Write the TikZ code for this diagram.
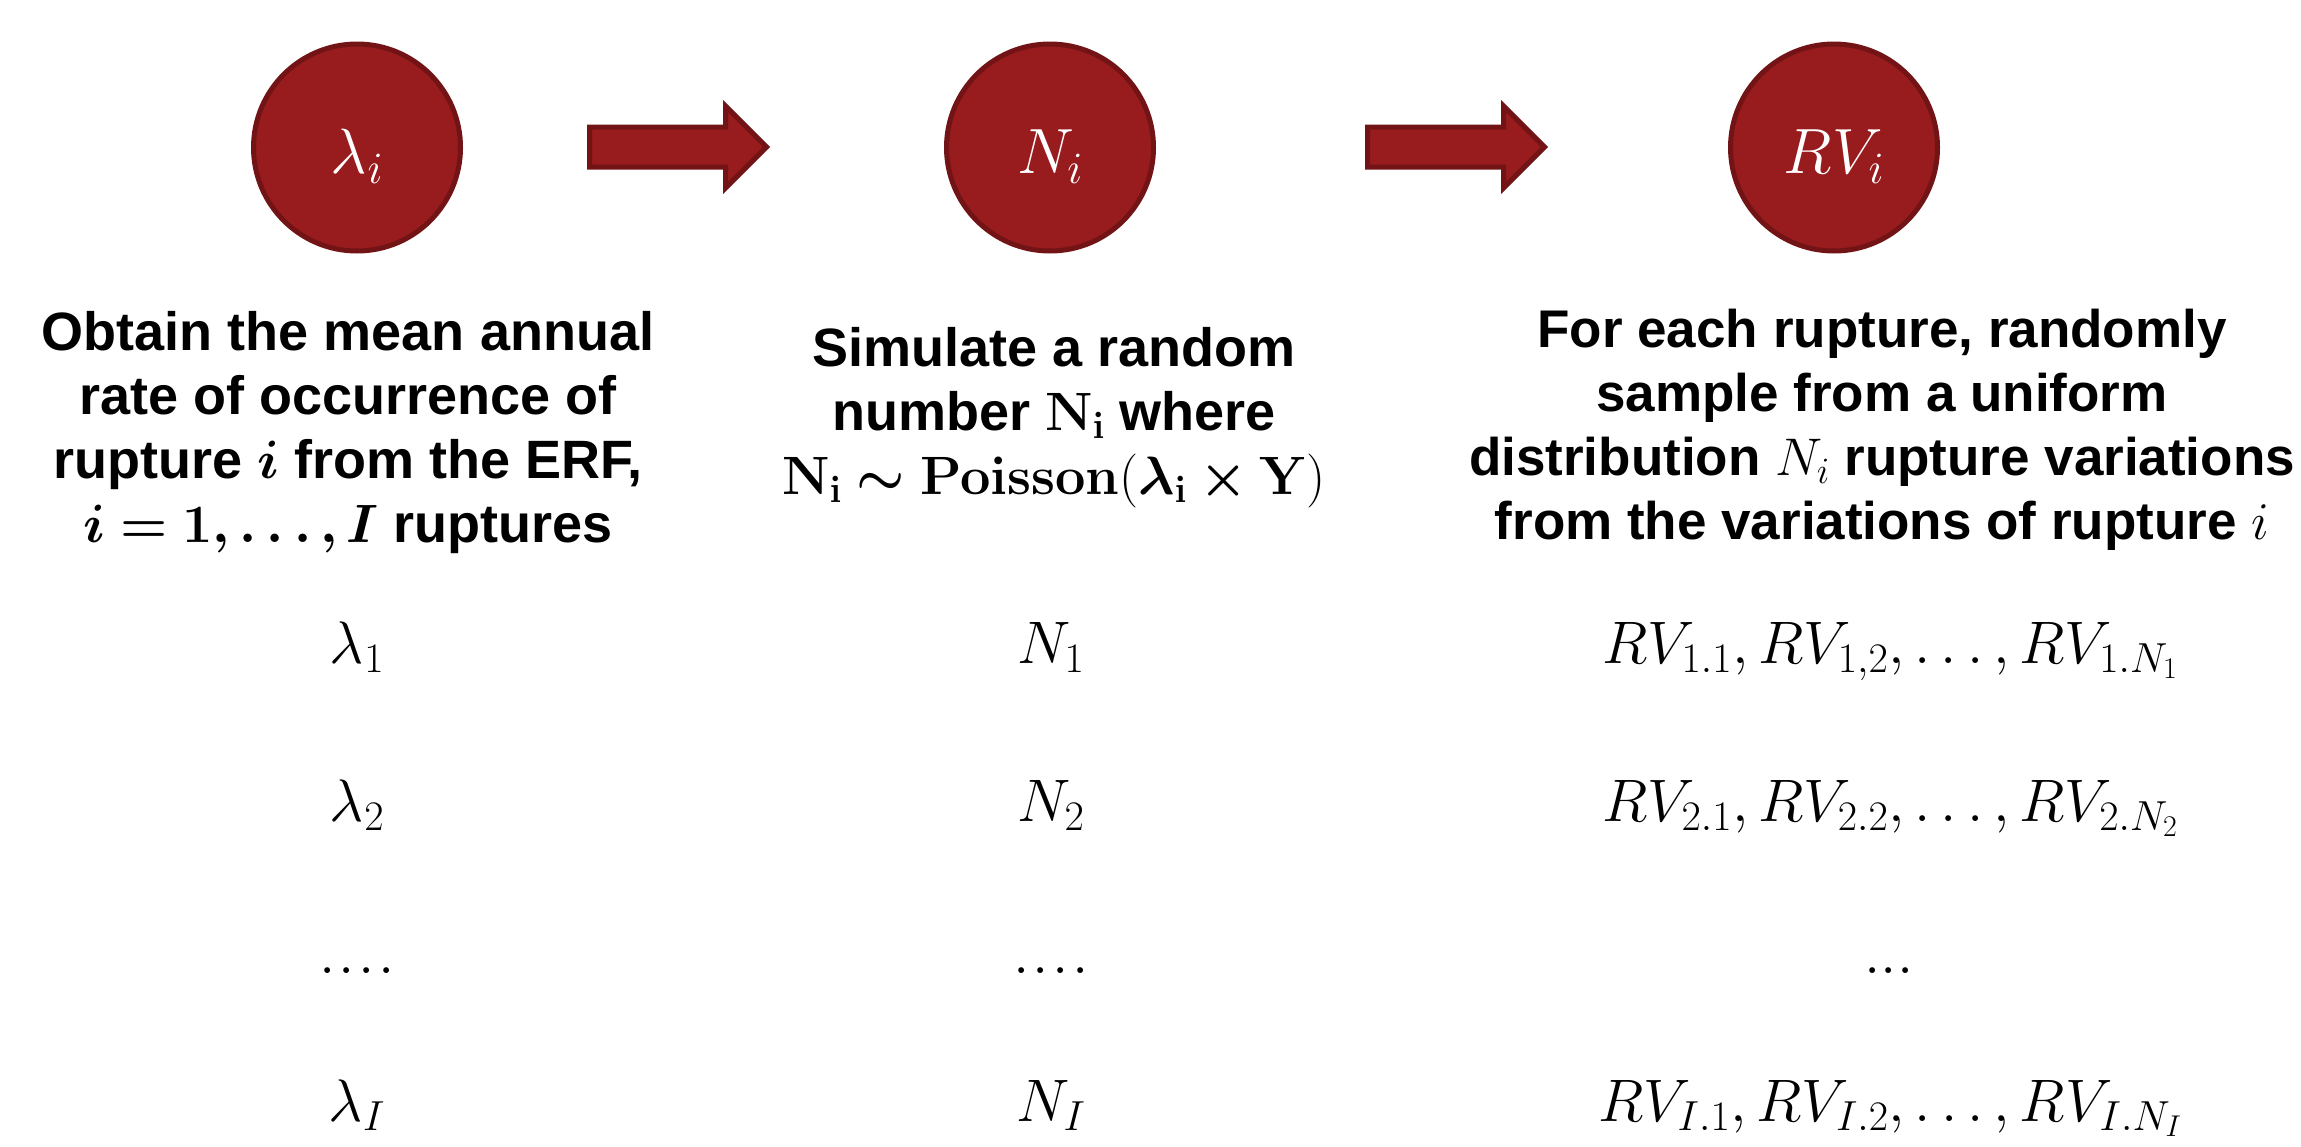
\RequirePackage{fix-cm}
\documentclass[tikz,border=0pt]{standalone}
\usepackage{amsmath}
\usepackage{bm}
\usepackage[no-math]{fontspec}
\setmainfont{Liberation Sans}
\definecolor{cfill}{RGB}{152,27,30}
\definecolor{cline}{RGB}{114,20,22}
\newcommand{\lowered}[1]{\raisebox{-9pt}[\height][\depth]{#1}}
\newcommand{\fourdots}{.\mkern1mu.\mkern1mu.\mkern1mu.}
\begin{document}
\begin{tikzpicture}[x=1pt,y=-1pt,
  disc/.style={circle, fill=cfill, draw=cline, line width=5pt, minimum size=207pt, inner sep=0pt, text=white, font=\fontsize{64}{68}\selectfont},
  blockarrow/.style={fill=cfill, draw=cline, line width=5pt, line join=miter},
  desc/.style={align=center, inner sep=0pt, anchor=north, font=\fontsize{54}{64}\selectfont\bfseries},
  val/.style={inner sep=0pt, anchor=base, font=\fontsize{60}{64}\selectfont}]
\useasboundingbox (0,0) rectangle (2301,1146);
\fill[white] (0,0) rectangle (2301,1146);
% step circles
\node[disc] (lam) at (357,147.5) {\lowered{$\lambda_i$}};
\node[disc] (N) at (1050,147.5) {\lowered{$N_i$}};
\node[disc] (RV) at (1834,147.5) {\lowered{$RV_i$}};
% block arrows
\coordinate (a1) at (589.5,147);
\coordinate (a2) at (1367.5,147);
\draw[blockarrow] (a1) ++(0,-20) -- ++(136,0) -- ++(0,-21) -- ++(41,41) -- ++(-41,41) -- ++(0,-21) -- ++(-136,0) -- cycle;
\draw[blockarrow] (a2) ++(0,-20) -- ++(136,0) -- ++(0,-21) -- ++(41,41) -- ++(-41,41) -- ++(0,-21) -- ++(-136,0) -- cycle;
% descriptions
\node[desc] (t1) at (348,311) {Obtain the mean annual\\rate of occurrence of\\rupture $\bm{i}$ from the ERF,\\$\bm{i=1,\ldots,I}$ ruptures};
\node[desc] (t2) at (1054,327) {Simulate a random\\number $\mathbf{N_i}$ where\\$\mathbf{N_i}\bm{\sim}\mathbf{Poisson(}\bm{\lambda}_{\mathbf{i}}\bm{\times}\mathbf{Y)}$};
\node[desc, font=\fontsize{53}{64}\selectfont\bfseries] (t3) at (1882,309) {For each rupture, randomly\\sample from a uniform\\distribution $N_i$ rupture variations\\from the variations of rupture $i$};
% values
\node[val] (l1) at (357,663) {$\lambda_1$};
\node[val] (n1) at (1051,663) {$N_1$};
\node[val] (r1) at (1890,663) {$RV_{1.1}, RV_{1,2}, \ldots, RV_{1.N_1}$};
\node[val] (l2) at (357,821) {$\lambda_2$};
\node[val] (n2) at (1051,821) {$N_2$};
\node[val] (r2) at (1890,821) {$RV_{2.1}, RV_{2.2}, \ldots, RV_{2.N_2}$};
\node[val] (l3) at (357,973) {$\fourdots$};
\node[val] (n3) at (1051,973) {$\fourdots$};
\node[val] (r3) at (1889,973) {$...$};
\node[val] (l4) at (357,1121) {$\lambda_I$};
\node[val] (n4) at (1051,1121) {$N_I$};
\node[val] (r4) at (1890,1121) {$RV_{I.1}, RV_{I.2}, \ldots, RV_{I.N_I}$};
\end{tikzpicture}
\end{document}
